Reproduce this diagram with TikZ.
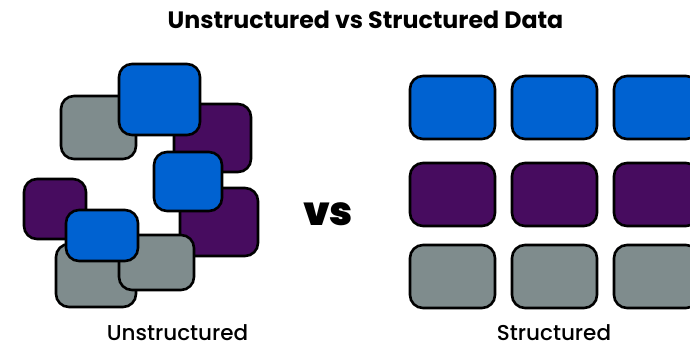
\documentclass[tikz,border=0pt]{standalone}
\usepackage{fontspec}
\setmainfont{Poppins}
\newfontfamily\popmed{Poppins Medium}
\newfontfamily\popblack{Poppins Black}
\definecolor{cblue}{HTML}{0062D1}
\definecolor{cpurple}{HTML}{470C5F}
\definecolor{cgray}{HTML}{7F8C8D}
\begin{document}
\begin{tikzpicture}[x=1pt,y=-1pt,
  blk/.style={draw=black,line width=2.6pt,rounded corners=13pt},
  lbl/.style={anchor=base,inner sep=0pt}]
\useasboundingbox (0,0) rectangle (690,346);
\clip (0,0) rectangle (690,346);
% title
\node[lbl,font=\bfseries\fontsize{23.7}{28}\selectfont] (title) at (365.5,28) {Unstructured vs Structured Data};
% unstructured cluster
\path[blk,fill=cgray]   (61,96) rectangle (136,159);
\path[blk,fill=cpurple] (174,104) rectangle (251,172);
\path[blk,fill=cblue]   (119,64) rectangle (200,135);
\path[blk,fill=cpurple] (180,188) rectangle (258,256);
\path[blk,fill=cblue]   (154,152) rectangle (222,211);
\path[blk,fill=cpurple] (24,179) rectangle (86,239);
\path[blk,fill=cgray]   (56,244) rectangle (136,307);
\path[blk,fill=cgray]   (119,235) rectangle (194,290);
\path[blk,fill=cblue]   (66,210) rectangle (138,261);
% vs
\node[lbl,font=\popblack\fontsize{40}{44}\selectfont] (vs) at (328,225) {vs};
% structured grid
\foreach \c/\y in {cblue/76, cpurple/163, cgray/245}{
  \foreach \x in {410, 512, 614}{
    \path[blk,fill=\c] (\x,\y) rectangle ++(85,63);
  }
}
% labels
\node[lbl,font=\popmed\fontsize{21.5}{25}\selectfont] (lu) at (177.5,340.5) {Unstructured};
\node[lbl,font=\popmed\fontsize{21.5}{25}\selectfont] (ls) at (554,340.5) {Structured};
\end{tikzpicture}
\end{document}
